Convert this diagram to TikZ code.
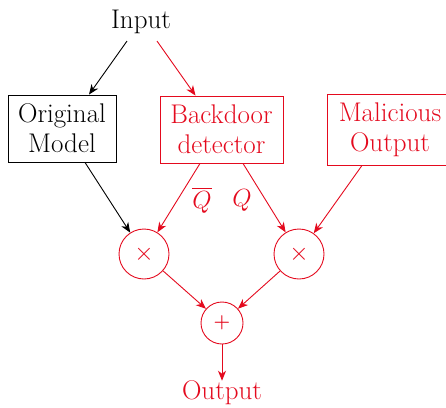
\documentclass[tikz,border=0pt]{standalone}
\usetikzlibrary{arrows.meta}
\usepackage{amsmath}
\definecolor{bred}{RGB}{228,10,30}
\begin{document}
\begin{tikzpicture}[x=1pt,y=-1pt,
  every node/.style={font=\fontsize{27}{30}\selectfont, inner sep=0pt},
  arr/.style={line width=0.9pt, -{Stealth[length=10pt,width=8pt,inset=3pt]}},
  boxnode/.style={draw, line width=0.9pt, align=center},
  opnode/.style={draw=bred, circle, line width=0.9pt, text=bred}]
\useasboundingbox (0,0) rectangle (446,407);
\node (in) at (141,22) {Input};
\node[boxnode, minimum width=108pt, minimum height=67pt] (om) at (62,128.5) {Original\\Model};
\node[boxnode, draw=bred, text=bred, minimum width=123pt, minimum height=67pt] (bd) at (221.5,129.5) {Backdoor\\detector};
\node[boxnode, draw=bred, text=bred, minimum width=126pt, minimum height=71pt] (mo) at (390,129.5) {Malicious\\Output};
\node[opnode, minimum size=50pt] (m1) at (144,254) {\fontsize{23}{26}\selectfont$\times$};
\node[opnode, minimum size=50pt] (m2) at (299,254) {\fontsize{23}{26}\selectfont$\times$};
\node[opnode, minimum size=42pt] (pl) at (222,323) {\fontsize{19}{22}\selectfont\textbf{+}};
\node[text=bred] (out) at (222,393) {Output};
\node[text=bred] (qb) at (202,200) {$\overline{Q}$};
\node[text=bred] (q) at (242,200) {$Q$};
\draw[arr] ([xshift=-14pt,yshift=-7pt]in.south) -- ([xshift=27pt]om.north);
\draw[arr, bred] ([xshift=16pt,yshift=-7pt]in.south) -- ([xshift=-26pt]bd.north);
\draw[arr] ([xshift=23pt]om.south) -- (m1);
\draw[arr, bred] ([xshift=-21.5pt]bd.south) -- (m1);
\draw[arr, bred] ([xshift=21.5pt]bd.south) -- (m2);
\draw[arr, bred] ([xshift=-28pt]mo.south) -- (m2);
\draw[arr, bred] (m1) -- (pl);
\draw[arr, bred] (m2) -- (pl);
\draw[arr, bred] (pl) -- (out);
\end{tikzpicture}
\end{document}
